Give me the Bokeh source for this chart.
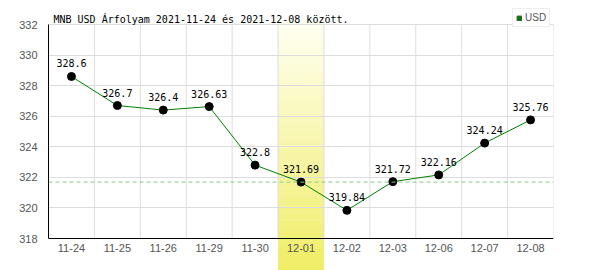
from bokeh.plotting import figure
from bokeh.models import (Range1d, FixedTicker, Span, Legend, LegendItem,
                          ColumnDataSource, Label)
from bokeh.core.properties import value
from bokeh.embed import file_html
from bokeh.resources import INLINE

# ---- data ----
dates = ["11-24", "11-25", "11-26", "11-29", "11-30", "12-01",
         "12-02", "12-03", "12-06", "12-07", "12-08"]
usd = [328.6, 326.7, 326.4, 326.63, 322.8, 321.69,
       319.84, 321.72, 322.16, 324.24, 325.76]
labels = ["328.6", "326.7", "326.4", "326.63", "322.8", "321.69",
          "319.84", "321.72", "322.16", "324.24", "325.76"]
highlight_date = "12-01"
y_ticks = [318, 320, 322, 324, 326, 328, 330, 332]
title_text = "MNB USD Árfolyam 2021-11-24 és 2021-12-08 között."
series_name = "USD"

n = len(dates)
xs = list(range(n))
hi = dates.index(highlight_date)
y_lo, y_hi = y_ticks[0], y_ticks[-1]

# ---- layout geometry (pixels) ----
W, H = 600, 270
plot_top_px, plot_bottom_px = 24, 238
ppu = (plot_bottom_px - plot_top_px) / (y_hi - y_lo)
r_top = y_hi + plot_top_px / ppu
r_bot = y_lo - (H - plot_bottom_px) / ppu

p = figure(width=W, height=H, output_backend="svg", toolbar_location=None,
           x_range=Range1d(-0.5, n - 0.5), y_range=Range1d(r_bot, r_top),
           x_axis_location=None,
           min_border_left=48, min_border_right=47, min_border_top=0, min_border_bottom=0,
           background_fill_color="white", border_fill_color="white")
p.outline_line_color = None

# y axis
ax = p.yaxis[0]
ax.major_tick_line_color = None
ax.minor_tick_line_color = None
ax.axis_line_color = "black"
ax.axis_line_width = 1
ax.major_label_text_font = "Liberation Sans"
ax.major_label_text_font_size = "11px"
ax.major_label_text_color = "#555555"
ax.major_label_standoff = 5
ax.ticker = FixedTicker(ticks=y_ticks)
ax.bounds = (y_lo, y_hi)

# grid
p.xgrid.visible = False
p.ygrid.ticker = FixedTicker(ticks=y_ticks)
p.ygrid.grid_line_color = "#dddddd"

# highlight with vertical gradient (stacked bands, glyphs)
band_top = y_hi + 4 / ppu
band_bot = r_bot
steps = 60
c0 = (255, 255, 242)
c1 = (240, 237, 100)
tops, bots, cols = [], [], []
for k in range(steps):
    t = k / (steps - 1)
    cols.append("#%02x%02x%02x" % tuple(int(round(a + (b - a) * t)) for a, b in zip(c0, c1)))
    tops.append(band_top - (band_top - band_bot) * k / steps)
    bots.append(band_top - (band_top - band_bot) * (k + 1) / steps - 0.02)
p.quad(left=[hi - 0.5] * steps, right=[hi + 0.5] * steps, top=tops, bottom=bots,
       fill_color=cols, line_color=None, level="underlay")

# vertical grid lines between categories
bounds_x = [i + 0.5 for i in xs]
p.segment(x0=bounds_x, x1=bounds_x, y0=[y_lo] * n, y1=[y_hi] * n,
          line_color="#dddddd", line_width=1, level="underlay")

# x axis: baseline + category labels
p.add_layout(Span(location=y_lo, dimension="width", line_color="black", line_width=1))
p.text(x=xs, y=[y_lo] * n, text=dates, text_font=value("Liberation Sans"),
       text_font_size="11px", text_color="#555555", text_align="center",
       text_baseline="top", y_offset=5)

# reference dashed line at highlighted value
p.add_layout(Span(location=usd[hi], dimension="width", line_color="#88cc88",
                  line_dash="4 3", line_width=1))

src = ColumnDataSource(dict(x=xs, y=usd, lab=labels))
# legend swatch renderer (zero-size, hidden beneath first marker)
swatch = p.quad(left=xs[:1], right=xs[:1], top=usd[:1], bottom=usd[:1],
                fill_color="#008000", line_color="#335533")
p.line("x", "y", source=src, line_color="#008000", line_width=1)
p.scatter("x", "y", source=src, size=8, fill_color="black", line_color="black")
p.text("x", "y", text="lab", source=src, text_font=value("DejaVu Sans Mono"),
       text_font_size="10px", text_color="black", text_align="center",
       text_baseline="alphabetic", y_offset=-13)

# title
p.add_layout(Label(x=-0.5, y=r_top - 19 / ppu, x_offset=5, text=title_text,
                   text_font="DejaVu Sans Mono", text_font_size="10px",
                   text_color="black", text_align="left", text_baseline="alphabetic"))

# legend
legend = Legend(items=[LegendItem(label=series_name, renderers=[swatch])],
                location=(464, H - 27), orientation="vertical",
                glyph_width=6, glyph_height=6, label_text_font="Liberation Sans",
                label_text_font_size="10px", label_text_color="#555555",
                label_standoff=3, padding=3, margin=0, spacing=0,
                label_height=8, border_line_color="#dddddd",
                background_fill_color="white", background_fill_alpha=1)
p.add_layout(legend, "center")

open("out.html", "w").write(file_html(p, INLINE))
